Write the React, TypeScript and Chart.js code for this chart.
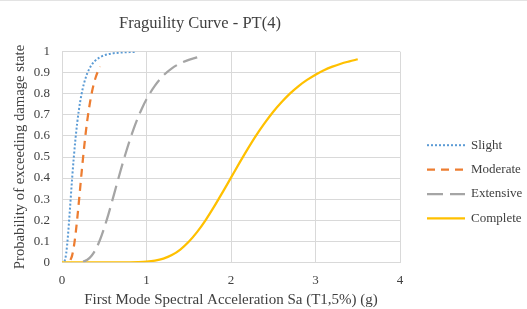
import { useEffect, useRef } from "react";
import { Chart, registerables } from "chart.js";

Chart.register(...registerables);

const chartTitle = "Fraguility Curve - PT(4)";
const xTitle = "First Mode Spectral Acceleration Sa (T1,5%) (g)";
const yTitle = "Probability of exceeding damage state";

const seriesNames = ["Slight", "Moderate", "Extensive", "Complete"];

const slightX = [0.03, 0.04, 0.05, 0.06, 0.07, 0.08, 0.09, 0.1, 0.12, 0.14, 0.16, 0.18, 0.2, 0.23, 0.26, 0.3, 0.35, 0.4, 0.45, 0.5, 0.6, 0.7, 0.8, 0.88];
const slightY = [0.005, 0.018, 0.043, 0.079, 0.124, 0.175, 0.231, 0.287, 0.399, 0.5, 0.588, 0.662, 0.724, 0.796, 0.849, 0.898, 0.937, 0.96, 0.974, 0.983, 0.992, 0.996, 0.998, 0.999];

const moderateX = [0.1, 0.12, 0.14, 0.16, 0.18, 0.2, 0.22, 0.24, 0.26, 0.28, 0.3, 0.33, 0.36, 0.4, 0.45];
const moderateY = [0.011, 0.033, 0.074, 0.132, 0.206, 0.288, 0.375, 0.459, 0.539, 0.612, 0.676, 0.756, 0.819, 0.88, 0.929];

const extensiveX = [0.25, 0.3, 0.35, 0.4, 0.45, 0.5, 0.55, 0.6, 0.65, 0.7, 0.75, 0.8, 0.85, 0.9, 0.95, 1.0, 1.1, 1.2, 1.3, 1.4, 1.5, 1.6];
const extensiveY = [0.003, 0.012, 0.031, 0.062, 0.107, 0.164, 0.229, 0.3, 0.373, 0.445, 0.513, 0.577, 0.636, 0.688, 0.734, 0.774, 0.839, 0.887, 0.921, 0.945, 0.961, 0.973];

const completeX = [0, 0.8, 0.9, 1.0, 1.1, 1.2, 1.3, 1.4, 1.5, 1.6, 1.7, 1.8, 1.9, 2.0, 2.1, 2.2, 2.3, 2.4, 2.5, 2.6, 2.7, 2.8, 2.9, 3.0, 3.1, 3.2, 3.3, 3.4, 3.5];
const completeY = [0, 0.0002, 0.0008, 0.0027, 0.0076, 0.0174, 0.0345, 0.0607, 0.0974, 0.1443, 0.2004, 0.264, 0.332, 0.402, 0.472, 0.54, 0.604, 0.662, 0.715, 0.761, 0.802, 0.837, 0.866, 0.891, 0.912, 0.929, 0.943, 0.954, 0.964];

const xTicks = [0, 1, 2, 3, 4];
const yTicks = [0, 0.1, 0.2, 0.3, 0.4, 0.5, 0.6, 0.7, 0.8, 0.9, 1];

const toPoints = (xs: number[], ys: number[]) => xs.map((x, i) => ({ x, y: ys[i] }));

const FONT = "'Liberation Serif', 'Times New Roman', serif";
const TEXT = "#404040";
const GRID = "#D9D9D9";

const frameLine = {
  id: "frameLine",
  beforeDraw(chart: any) {
    const { ctx, width } = chart;
    ctx.save();
    ctx.fillStyle = "#E3E3E3";
    ctx.fillRect(0, 0, width, 1);
    ctx.restore();
  },
};

const legendPlugin = {
  id: "sideLegend",
  afterDraw(chart: any) {
    const { ctx, chartArea } = chart;
    const x0 = chartArea.right + 27;
    const len = 38;
    ctx.save();
    chart.data.datasets.forEach((ds: any, i: number) => {
      const y = chartArea.top + 93.5 + i * 24.4;
      ctx.beginPath();
      ctx.setLineDash(ds.borderDash || []);
      ctx.strokeStyle = ds.borderColor;
      ctx.lineWidth = ds.borderWidth;
      ctx.lineCap = "butt";
      ctx.moveTo(x0, y);
      ctx.lineTo(x0 + len, y);
      ctx.stroke();
      ctx.setLineDash([]);
      ctx.fillStyle = TEXT;
      ctx.font = `13px ${FONT}`;
      ctx.textAlign = "left";
      ctx.textBaseline = "middle";
      ctx.fillText(ds.label, x0 + len + 6, y);
    });
    ctx.restore();
  },
};

export default function App() {
  const ref = useRef<HTMLCanvasElement | null>(null);

  useEffect(() => {
    document.body.style.margin = "0";
    const canvas = ref.current;
    if (!canvas) return;
    const chart = new Chart(canvas, {
      type: "line",
      data: {
        datasets: [
          {
            label: seriesNames[0],
            data: toPoints(slightX, slightY),
            borderColor: "#5B9BD5",
            borderWidth: 2,
            borderDash: [2, 2],
            pointRadius: 0,
            cubicInterpolationMode: "monotone",
            fill: false,
          },
          {
            label: seriesNames[1],
            data: toPoints(moderateX, moderateY),
            borderColor: "#ED7D31",
            borderWidth: 2.25,
            borderDash: [8, 6],
            pointRadius: 0,
            cubicInterpolationMode: "monotone",
            fill: false,
          },
          {
            label: seriesNames[2],
            data: toPoints(extensiveX, extensiveY),
            borderColor: "#A5A5A5",
            borderWidth: 2.25,
            borderDash: [16, 7],
            pointRadius: 0,
            cubicInterpolationMode: "monotone",
            fill: false,
          },
          {
            label: seriesNames[3],
            data: toPoints(completeX, completeY),
            borderColor: "#FFC000",
            borderWidth: 2.25,
            pointRadius: 0,
            cubicInterpolationMode: "monotone",
            fill: false,
          },
        ],
      } as any,
      options: {
        animation: false,
        responsive: false,
        layout: { padding: { left: 0, right: 127, top: 0, bottom: 0 } },
        plugins: {
          legend: { display: false },
          tooltip: { enabled: false },
          title: {
            display: true,
            text: chartTitle,
            color: TEXT,
            font: { family: FONT, size: 16.5, weight: "normal" },
            padding: { top: 14.1, bottom: 17.8 },
          },
        },
        scales: {
          x: {
            type: "linear",
            min: xTicks[0],
            max: xTicks[xTicks.length - 1],
            afterBuildTicks: (s: any) => {
              s.ticks = xTicks.map((v) => ({ value: v }));
            },
            afterFit: (s: any) => {
              s.height = 46.7;
            },
            grid: { color: GRID, drawTicks: false },
            border: { color: GRID },
            ticks: {
              color: TEXT,
              font: { family: FONT, size: 13 },
              padding: 10,
              maxRotation: 0,
              callback: (v: any) => String(v),
            },
            title: {
              display: true,
              text: xTitle,
              color: TEXT,
              font: { family: FONT, size: 15 },
              padding: { top: 0, bottom: 0 },
            },
          },
          y: {
            type: "linear",
            min: yTicks[0],
            max: yTicks[yTicks.length - 1],
            afterBuildTicks: (s: any) => {
              s.ticks = yTicks.map((v) => ({ value: v }));
            },
            afterFit: (s: any) => {
              s.width = 62;
            },
            grid: { color: GRID, drawTicks: false },
            border: { color: GRID },
            ticks: {
              color: TEXT,
              font: { family: FONT, size: 13 },
              padding: 12,
              callback: (v: any) => String(Number(Number(v).toFixed(1))),
            },
            title: {
              display: true,
              text: yTitle,
              color: TEXT,
              font: { family: FONT, size: 14.7 },
              padding: { top: 11, bottom: 0 },
            },
          },
        },
      } as any,
      plugins: [frameLine, legendPlugin],
    });
    return () => chart.destroy();
  }, []);

  return <canvas ref={ref} width={527} height={309} style={{ display: "block" }} />;
}
